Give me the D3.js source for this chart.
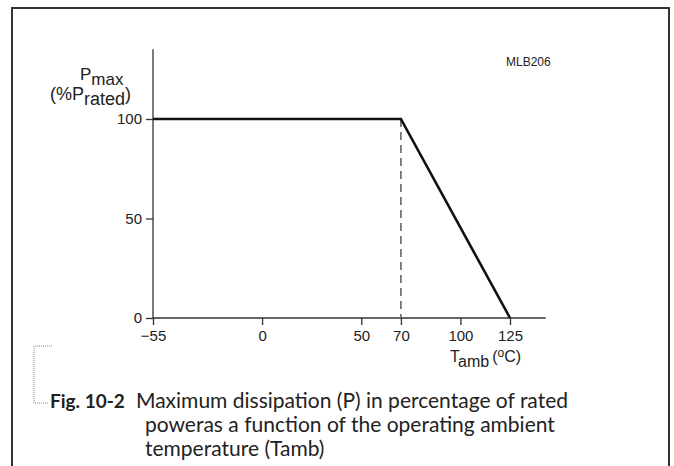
<!DOCTYPE html>
<html>
<head>
<meta charset="utf-8">
<script src="https://d3js.org/d3.v7.min.js"></script>
<style>
  body { margin: 0; background: #fff; }
  svg { display: block; }
  .axis text { font-family: "Liberation Sans", Arial, sans-serif; font-size: 15px; fill: #222; }
  .axis path, .axis line { stroke: #333; stroke-width: 1.3px; }
  .caption { font-family: Lato, "Open Sans", sans-serif; font-size: 21px; fill: #222; }
</style>
</head>
<body>
<svg id="chart" width="674" height="466"></svg>
<script>
// derating curve points (T amb in degC, P max in % of rated)
var temps = [-55, 70, 125];
var power = [100, 100, 0];
var xTicks = [-55, 0, 50, 70, 100, 125];
var yTicks = [0, 50, 100];
var kneeTemp = 70;

var svg = d3.select("#chart");

// frame of the figure (open at the bottom)
svg.append("path")
  .attr("d", "M12,466 V8 H669 V466")
  .attr("fill", "none")
  .attr("stroke", "#333")
  .attr("stroke-width", 2);

var x = d3.scaleLinear().domain([-55, 125]).range([153, 510]);
var y = d3.scaleLinear().domain([0, 100]).range([318, 119]);

// x axis line, a bit longer than the data range
svg.append("line")
  .attr("x1", x(-55)).attr("x2", x(143))
  .attr("y1", y(0)).attr("y2", y(0))
  .attr("stroke", "#333").attr("stroke-width", 1.3);

var xAxis = svg.append("g")
  .attr("class", "axis")
  .attr("transform", "translate(0," + y(0) + ")")
  .call(d3.axisBottom(x).tickValues(xTicks).tickSize(7).tickPadding(5)
    .tickFormat(function(d) { return d < 0 ? "\u2212" + Math.abs(d) : d; }));
xAxis.select(".domain").remove();

// y axis line runs up past 100
svg.append("line")
  .attr("x1", x(-55)).attr("x2", x(-55))
  .attr("y1", y(0)).attr("y2", y(135))
  .attr("stroke", "#333").attr("stroke-width", 1.3);

var yAxis = svg.append("g")
  .attr("class", "axis")
  .attr("transform", "translate(" + x(-55) + ",0)")
  .call(d3.axisLeft(y).tickValues(yTicks).tickSize(7).tickPadding(4));
yAxis.select(".domain").remove();

// dashed drop line at the knee
svg.append("line")
  .attr("x1", x(kneeTemp)).attr("x2", x(kneeTemp))
  .attr("y1", y(100)).attr("y2", y(0))
  .attr("stroke", "#666")
  .attr("stroke-width", 1.6)
  .attr("stroke-dasharray", "8,5");

var pts = temps.map(function(t, i) { return [t, power[i]]; });
var line = d3.line()
  .x(function(d) { return x(d[0]); })
  .y(function(d) { return y(d[1]); });

svg.append("path")
  .attr("d", line(pts))
  .attr("fill", "none")
  .attr("stroke", "#111")
  .attr("stroke-width", 2.6);

// axis titles
var lab = svg.append("g")
  .style("font-family", "'Liberation Sans', Arial, sans-serif")
  .style("font-size", "17px")
  .attr("fill", "#222");

var t1 = lab.append("text").attr("x", 80).attr("y", 80);
t1.append("tspan").text("P");
t1.append("tspan").attr("dy", 5).text("max");

var t2 = lab.append("text").attr("x", 50).attr("y", 100).style("font-size", "18px");
t2.append("tspan").text("(%P");
t2.append("tspan").attr("dy", 5).text("rated");
t2.append("tspan").attr("dy", -5).text(")");

var t3 = lab.append("text").attr("x", 450).attr("y", 362).style("font-size", "16px");
t3.append("tspan").text("T");
t3.append("tspan").attr("dy", 5).text("amb");
t3.append("tspan").attr("dy", -5).attr("dx", 3).text("(");
t3.append("tspan").attr("dy", -5).style("font-size", "12px").text("o");
t3.append("tspan").attr("dy", 5).text("C)");

lab.append("text")
  .attr("x", 506).attr("y", 66)
  .style("font-size", "12px")
  .text("MLB206");

// caption bracket
svg.append("path")
  .attr("d", "M52,346 H34 V403 H49")
  .attr("fill", "none")
  .attr("stroke", "#888")
  .attr("stroke-width", 1)
  .attr("stroke-dasharray", "1,1");

var cap = svg.append("g").attr("class", "caption");
cap.append("text").attr("x", 50).attr("y", 408)
  .style("font-weight", "bold").style("font-size", "19px").text("Fig. 10-2");
cap.append("text").attr("x", 136).attr("y", 408)
  .text("Maximum dissipation (P) in percentage of rated");
cap.append("text").attr("x", 145).attr("y", 432)
  .text("poweras a function of the operating ambient");
cap.append("text").attr("x", 145).attr("y", 456)
  .text("temperature (Tamb)");
</script>
</body>
</html>
